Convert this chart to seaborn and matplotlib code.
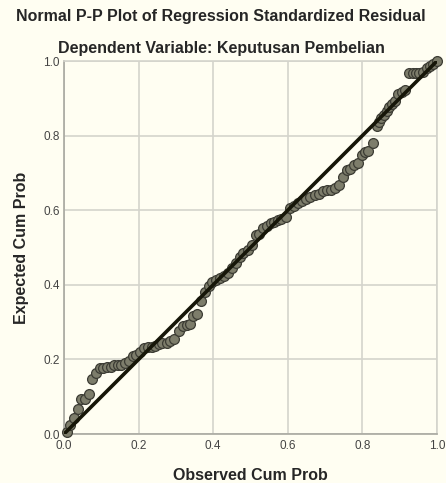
import numpy as np
import pandas as pd

import matplotlib
matplotlib.use("Agg")
import matplotlib.pyplot as plt
import seaborn as sns

# observed vs expected cumulative probabilities
observed = [0.007, 0.016, 0.027, 0.038, 0.046, 0.056, 0.066, 0.076, 0.086, 0.096,
            0.105, 0.114, 0.125, 0.135, 0.145, 0.154, 0.164, 0.175, 0.185, 0.194,
            0.204, 0.214, 0.224, 0.235, 0.245, 0.254, 0.264, 0.275, 0.285, 0.295,
            0.307, 0.318, 0.329, 0.339, 0.346, 0.356, 0.367, 0.377, 0.388, 0.398,
            0.408, 0.419, 0.429, 0.440, 0.450, 0.460, 0.471, 0.481, 0.492, 0.505,
            0.515, 0.524, 0.534, 0.543, 0.554, 0.563, 0.573, 0.583, 0.595, 0.606,
            0.617, 0.627, 0.637, 0.649, 0.660, 0.673, 0.684, 0.695, 0.706, 0.716,
            0.727, 0.738, 0.747, 0.758, 0.768, 0.778, 0.789, 0.798, 0.807, 0.816,
            0.828, 0.838, 0.845, 0.851, 0.858, 0.865, 0.872, 0.880, 0.887, 0.896,
            0.905, 0.914, 0.926, 0.935, 0.944, 0.953, 0.963, 0.972, 0.981, 0.990,
            0.999]
expected = [0.006, 0.024, 0.044, 0.066, 0.093, 0.095, 0.107, 0.147, 0.163, 0.176,
            0.178, 0.179, 0.180, 0.186, 0.186, 0.186, 0.190, 0.196, 0.208, 0.213,
            0.220, 0.230, 0.232, 0.233, 0.236, 0.241, 0.243, 0.245, 0.249, 0.255,
            0.277, 0.290, 0.293, 0.294, 0.317, 0.321, 0.357, 0.380, 0.398, 0.408,
            0.413, 0.418, 0.424, 0.431, 0.444, 0.459, 0.474, 0.486, 0.492, 0.507,
            0.534, 0.536, 0.551, 0.558, 0.567, 0.569, 0.574, 0.577, 0.583, 0.605,
            0.611, 0.618, 0.626, 0.629, 0.636, 0.641, 0.643, 0.652, 0.654, 0.654,
            0.659, 0.668, 0.688, 0.708, 0.711, 0.721, 0.726, 0.748, 0.757, 0.760,
            0.781, 0.826, 0.837, 0.846, 0.855, 0.866, 0.877, 0.884, 0.892, 0.912,
            0.918, 0.922, 0.967, 0.967, 0.967, 0.967, 0.971, 0.980, 0.987, 0.993,
            1.000]
ref_line = [0.0, 1.0]
ticks = [0.0, 0.2, 0.4, 0.6, 0.8, 1.0]

df = pd.DataFrame({"observed": observed, "expected": expected})
line_df = pd.DataFrame({"x": ref_line, "y": ref_line})

sns.set_style("white")
plt.rcParams['font.family'] = ['Liberation Sans', 'DejaVu Sans']

bg = "#fffef2"
fig = plt.figure(figsize=(4.46, 4.83), dpi=100, facecolor=bg)
ax = fig.add_axes([0.1435, 0.1014, 0.8363, 0.7723], facecolor=bg)

sns.scatterplot(data=df, x="observed", y="expected", ax=ax, s=50,
                color="#7d7d6b", edgecolor="#3c3c34", linewidth=0.9, zorder=3,
                clip_on=False)
sns.lineplot(data=line_df, x="x", y="y", ax=ax, color="#161608", linewidth=2.6,
             zorder=4)

ax.set_xlim(0, 1)
ax.set_ylim(0, 1)
ax.set_xticks(ticks)
ax.set_yticks(ticks)
ax.set_xticklabels([f"{t:.1f}" for t in ticks])
ax.set_yticklabels([f"{t:.1f}" for t in ticks])
ax.grid(True, color="#d4d4cc", linewidth=1.2)
ax.set_axisbelow(True)
ax.tick_params(length=0, labelsize=8.5, colors="#444444")
ax.tick_params(axis="x", pad=4)
ax.tick_params(axis="y", pad=3)
for s in ax.spines.values():
    s.set_color("#d4d4cc")
    s.set_linewidth(1.2)
ax.spines["left"].set_color("#a8a8a0")
ax.spines["bottom"].set_color("#a8a8a0")

ax.set_xlabel("Observed Cum Prob", fontsize=11.5, fontweight="bold", labelpad=12)
ax.set_ylabel("Expected Cum Prob", fontsize=11.5, fontweight="bold", labelpad=10)

fig.text(0.496, 1 - 16 / 483, "Normal P-P Plot of Regression Standardized Residual",
         ha="center", va="center", fontsize=11.5, fontweight="bold")
fig.text(0.496, 1 - 49 / 483, "Dependent Variable: Keputusan Pembelian",
         ha="center", va="center", fontsize=11.5, fontweight="bold")

plt.savefig("out.png", dpi=100, facecolor=bg)
